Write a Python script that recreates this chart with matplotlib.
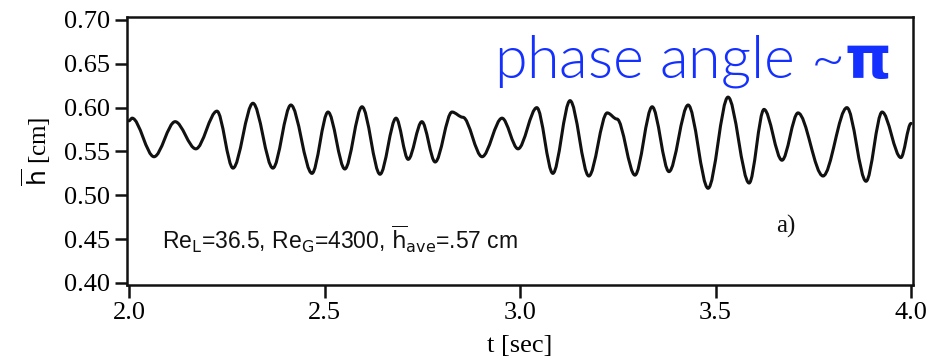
import matplotlib
matplotlib.use("Agg")
import matplotlib.pyplot as plt
from matplotlib.path import Path
from matplotlib.patches import PathPatch

# Extrema / shoulders of film thickness trace
t_sec = [2.000, 2.008, 2.064, 2.118, 2.171, 2.225, 2.266, 2.317, 2.368, 2.414,
         2.468, 2.509, 2.552, 2.596, 2.642, 2.683, 2.714, 2.749, 2.783, 2.826,
         2.854, 2.903, 2.954, 2.995, 3.043, 3.084, 3.128, 3.176, 3.223, 3.248,
         3.294, 3.338, 3.381, 3.430, 3.481, 3.532, 3.586, 3.624, 3.670, 3.711,
         3.775, 3.836, 3.885, 3.926, 3.974, 4.000]
h_cm = [0.585, 0.588, 0.544, 0.584, 0.553, 0.596, 0.531, 0.605, 0.531, 0.603,
        0.525, 0.595, 0.530, 0.601, 0.524, 0.588, 0.541, 0.584, 0.538, 0.595,
        0.589, 0.544, 0.588, 0.553, 0.600, 0.525, 0.608, 0.522, 0.594, 0.587,
        0.523, 0.601, 0.527, 0.603, 0.508, 0.612, 0.514, 0.598, 0.540, 0.594,
        0.522, 0.600, 0.516, 0.595, 0.543, 0.582]

x_ticks = [2.0, 2.5, 3.0, 3.5, 4.0]
x_ticklabels = ["2.0", "2.5", "3.0", "3.5", "4.0"]
y_ticks = [0.40, 0.45, 0.50, 0.55, 0.60, 0.65, 0.70]
y_ticklabels = ["0.40", "0.45", "0.50", "0.55", "0.60", "0.65", "0.70"]

fig = plt.figure(figsize=(9.3, 3.63), dpi=100)
ax = fig.add_axes([0.1366, 0.2149, 0.8451, 0.7383])

# smooth curve through the read points (cubic Bezier with flat tangents at extrema)
verts = [(t_sec[0], h_cm[0])]
codes = [Path.MOVETO]
for i in range(1, len(t_sec)):
    t0, h0 = t_sec[i - 1], h_cm[i - 1]
    t1, h1 = t_sec[i], h_cm[i]
    dt = t1 - t0
    verts += [(t0 + dt / 3, h0), (t0 + 2 * dt / 3, h1), (t1, h1)]
    codes += [Path.CURVE4] * 3
ax.add_patch(PathPatch(Path(verts, codes), fill=False, edgecolor="#111111",
                       lw=2.2, capstyle="round", joinstyle="round"))

ax.set_xlim(1.995, 4.005)
ax.set_ylim(0.3977, 0.7034)

serif = ["Liberation Serif", "DejaVu Serif"]
ax.set_xticks(x_ticks)
ax.set_xticklabels(x_ticklabels, family=serif, fontsize=19)
ax.set_yticks(y_ticks)
ax.set_yticklabels(y_ticklabels, family=serif, fontsize=19)
ax.tick_params(axis="both", direction="out", length=9, width=1.8, color="#111111", pad=3)
for s in ax.spines.values():
    s.set_linewidth(1.8)
    s.set_color("#111111")

ax.set_xlabel("t [sec]", family=serif, fontsize=19, labelpad=8)
ax.set_ylabel(r"$\overline{\mathrm{h}}$ [cm]", family=serif, fontsize=18, labelpad=8)

ax.text(0.045, 0.17,
        r"Re$_\mathrm{L}$=36.5, Re$_\mathrm{G}$=4300, $\overline{\mathrm{h}}_\mathrm{ave}$=.57 cm",
        transform=ax.transAxes, family=["Liberation Sans", "DejaVu Sans"], fontsize=16.5,
        va="center", ha="left", color="#111111")
ax.text(0.838, 0.22, "a)", transform=ax.transAxes, family=serif, fontsize=18,
        va="center", ha="center", color="#111111")

ax.text(0.971, 0.775, r"phase angle ~$\mathbf{\pi}$", transform=ax.transAxes,
        family=["Lato", "DejaVu Sans"], fontweight=300, fontsize=42.5, color="#1430ff",
        ha="right", va="baseline")

fig.savefig("out.png", dpi=100)
